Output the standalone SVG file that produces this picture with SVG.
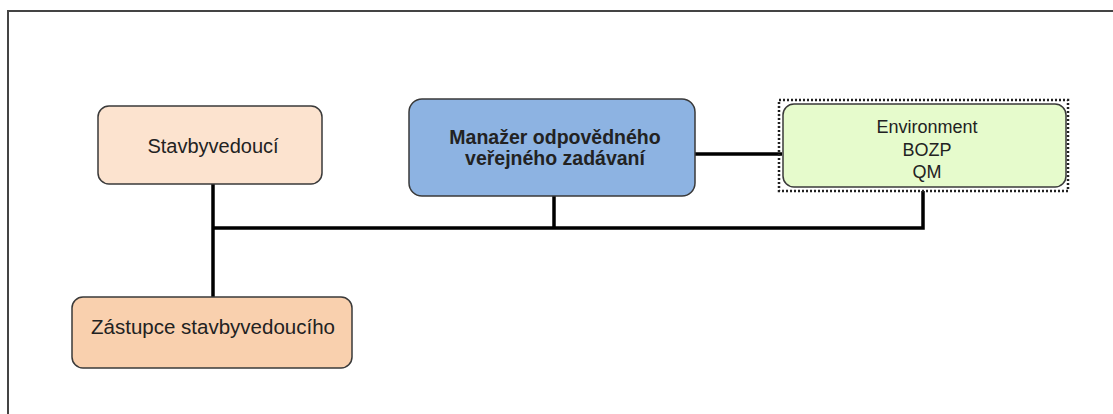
<svg xmlns="http://www.w3.org/2000/svg" width="1113" height="414" viewBox="0 0 1113 414">
<style>
text{font-family:"Liberation Sans",Arial,sans-serif;fill:#222;text-anchor:middle}
.box{stroke:#3a3a3a;stroke-width:1.5}
.conn{stroke:#000;stroke-width:3.5;fill:none}
</style>
<rect width="1113" height="414" fill="#fff"/>
<path d="M8 420 V11 H1120" fill="none" stroke="#444" stroke-width="2"/>
<g id="connectors">
<path class="conn" d="M213 184 V297"/>
<path class="conn" d="M213 228 H923 V191"/>
<path class="conn" d="M554 196 V228"/>
<path class="conn" d="M695 154 H782"/>
</g>
<g id="stavbyvedouci">
<rect class="box" x="98" y="106" width="224" height="78" rx="11" fill="#FCE3CF"/>
<text x="213" y="153" font-size="20">Stavbyvedoucí</text>
</g>
<g id="zastupce">
<rect class="box" x="72" y="297" width="280" height="71" rx="11" fill="#F9D0AE"/>
<text x="213" y="334" font-size="20.5">Zástupce stavbyvedoucího</text>
</g>
<g id="manazer">
<rect class="box" x="409" y="99" width="286" height="97" rx="13" fill="#8DB3E2"/>
<text x="555" y="144" font-size="19.5" font-weight="bold">Manažer odpovědného</text>
<text x="555" y="165" font-size="19.5" font-weight="bold">veřejného zadávaní</text>
</g>
<g id="environment">
<rect x="779" y="100" width="289" height="91" fill="none" stroke="#222" stroke-width="2.5" stroke-dasharray="2 2"/>
<rect class="box" x="783" y="104" width="283" height="83" rx="11" fill="#E6FBCC"/>
<text x="927" y="133" font-size="18">Environment</text>
<text x="927" y="156" font-size="18">BOZP</text>
<text x="927" y="178" font-size="18">QM</text>
</g>
</svg>
